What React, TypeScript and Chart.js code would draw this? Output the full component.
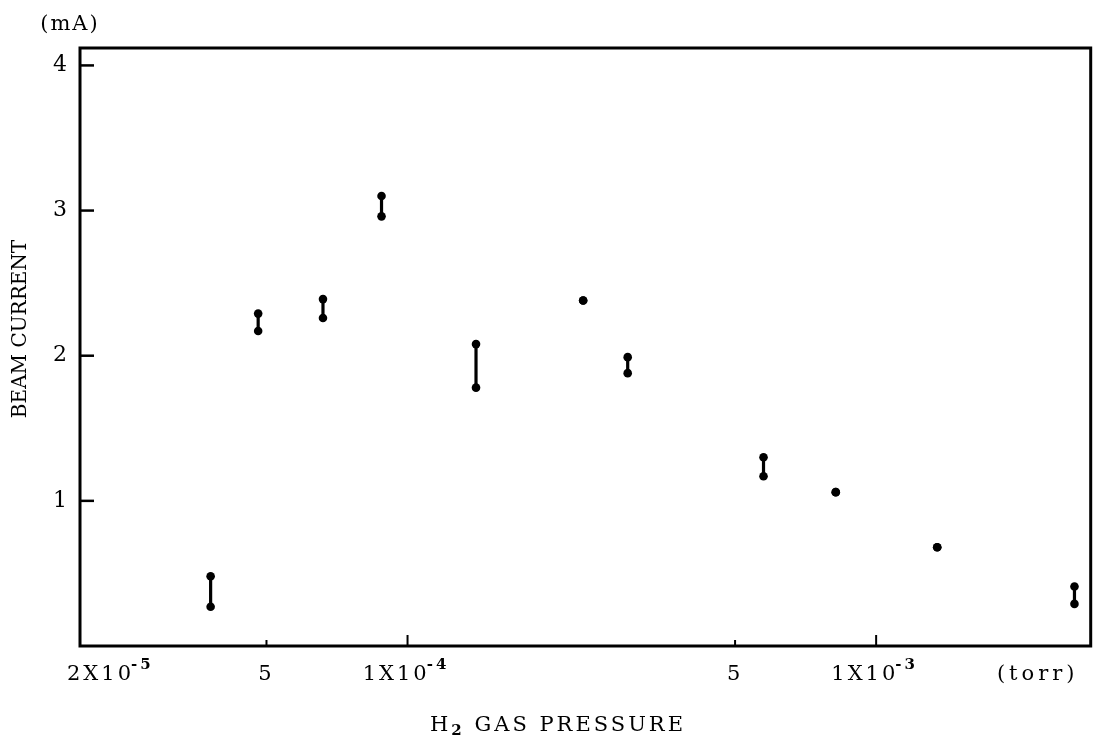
import React, { useEffect, useRef } from "react";
import { Chart, registerables } from "chart.js";

Chart.register(...registerables);

// ---- data ----
const pressure = [3.8e-5, 4.8e-5, 6.6e-5, 8.8e-5, 1.4e-4, 2.37e-4, 2.95e-4, 5.75e-4, 8.2e-4, 1.35e-3, 2.65e-3];
const currentHigh = [0.48, 2.29, 2.39, 3.1, 2.08, 2.38, 1.99, 1.3, 1.06, 0.68, 0.41];
const currentLow = [0.27, 2.17, 2.26, 2.96, 1.78, 2.38, 1.88, 1.17, 1.06, 0.68, 0.29];

const xTickValues = [2e-5, 5e-5, 1e-4, 5e-4, 1e-3];
const xTickMain = ["2X10", "5", "1X10", "5", "1X10"];
const xTickSup = ["-5", "", "-4", "", "-3"];
const yTickValues = [1, 2, 3, 4];

const xMin = 2e-5;
const xMax = 2.87e-3;
const yMin = 0;
const yMax = 4.12;

const xTitleMain = "H";
const xTitleSub = "2";
const xTitleRest = " GAS PRESSURE";
const xUnit = "(torr)";
const yTitle = "BEAM CURRENT";
const yUnit = "(mA)";

const FONT = '"DejaVu Serif", serif';

const decoPlugin = {
  id: "deco",
  beforeDatasetsDraw(chart: any) {
    const { ctx, scales } = chart;
    const x = scales.x;
    const y = scales.y;
    ctx.save();
    ctx.strokeStyle = "#000";
    ctx.lineWidth = 3.2;
    ctx.lineCap = "round";
    for (let i = 0; i < pressure.length; i++) {
      if (currentHigh[i] === currentLow[i]) continue;
      const px = x.getPixelForValue(pressure[i]);
      ctx.beginPath();
      ctx.moveTo(px, y.getPixelForValue(currentHigh[i]));
      ctx.lineTo(px, y.getPixelForValue(currentLow[i]));
      ctx.stroke();
    }
    ctx.restore();
  },
  afterDraw(chart: any) {
    const { ctx, chartArea: a, scales } = chart;
    const x = scales.x;
    const y = scales.y;
    ctx.save();
    ctx.strokeStyle = "#000";
    ctx.fillStyle = "#000";
    // frame
    ctx.lineWidth = 3;
    ctx.strokeRect(a.left, a.top, a.right - a.left, a.bottom - a.top);
    // inward y ticks
    ctx.lineWidth = 2.5;
    for (const v of yTickValues) {
      const py = y.getPixelForValue(v);
      ctx.beginPath();
      ctx.moveTo(a.left, py);
      ctx.lineTo(a.left + 14, py);
      ctx.stroke();
    }
    // inward x ticks
    ctx.lineWidth = 2;
    xTickValues.forEach((v, i) => {
      if (i === 0) return;
      const px = x.getPixelForValue(v);
      const len = xTickSup[i] ? 11 : 6;
      ctx.beginPath();
      ctx.moveTo(px, a.bottom);
      ctx.lineTo(px, a.bottom - len);
      ctx.stroke();
    });
    // x tick labels with superscripts
    const baseY = a.bottom + 34;
    const c: any = ctx;
    c.letterSpacing = "3px";
    xTickValues.forEach((v, i) => {
      const px = x.getPixelForValue(v);
      ctx.font = `21px ${FONT}`;
      const mw = ctx.measureText(xTickMain[i]).width;
      ctx.font = `bold 15px ${FONT}`;
      const sw = xTickSup[i] ? ctx.measureText(xTickSup[i]).width : 0;
      const start = i === 0 ? px - 13 : px - (mw + sw) / 2;
      ctx.textAlign = "left";
      ctx.textBaseline = "alphabetic";
      ctx.font = `21px ${FONT}`;
      ctx.fillText(xTickMain[i], start, baseY);
      if (xTickSup[i]) {
        ctx.font = `bold 15px ${FONT}`;
        ctx.fillText(xTickSup[i], start + mw - 3, baseY - 11);
      }
    });
    // unit on x
    c.letterSpacing = "4px";
    ctx.font = `21px ${FONT}`;
    ctx.textAlign = "center";
    ctx.fillText(xUnit, a.right - 53, baseY);
    // x title with subscript
    c.letterSpacing = "3px";
    ctx.font = `21px ${FONT}`;
    const hW = ctx.measureText(xTitleMain).width;
    const rW = ctx.measureText(xTitleRest).width;
    ctx.font = `bold 15px ${FONT}`;
    const sW = ctx.measureText(xTitleSub).width;
    const total = hW + sW + rW;
    const cx = 558;
    let sx = cx - total / 2;
    const ty = 731;
    ctx.textAlign = "left";
    ctx.font = `21px ${FONT}`;
    ctx.fillText(xTitleMain, sx, ty);
    sx += hW;
    ctx.font = `bold 15px ${FONT}`;
    ctx.fillText(xTitleSub, sx, ty + 4);
    sx += sW;
    ctx.font = `21px ${FONT}`;
    ctx.fillText(xTitleRest, sx, ty);
    // y unit
    c.letterSpacing = "2px";
    ctx.textAlign = "center";
    ctx.textBaseline = "middle";
    ctx.font = `21px ${FONT}`;
    ctx.fillText(yUnit, 70, 25);
    // y title rotated
    c.letterSpacing = "0px";
    ctx.translate(21, 329);
    ctx.rotate(-Math.PI / 2);
    ctx.font = `20px ${FONT}`;
    ctx.fillText(yTitle, 0, 0);
    ctx.restore();
  },
};

export default function App() {
  const ref = useRef<HTMLCanvasElement | null>(null);
  useEffect(() => {
    if (!ref.current) return;
    const chart = new Chart(ref.current, {
      type: "scatter",
      data: {
        datasets: [
          {
            label: "high",
            data: pressure.map((p, i) => ({ x: p, y: currentHigh[i] })),
            backgroundColor: "#000",
            borderColor: "#000",
            pointRadius: 4.3,
            borderWidth: 0,
          },
          {
            label: "low",
            data: pressure.map((p, i) => ({ x: p, y: currentLow[i] })),
            backgroundColor: "#000",
            borderColor: "#000",
            pointRadius: 4.3,
            borderWidth: 0,
          },
        ],
      },
      options: {
        animation: false,
        responsive: true,
        maintainAspectRatio: false,
        layout: { padding: { left: 0, top: 48, right: 2, bottom: 0 } },
        plugins: {
          legend: { display: false },
          tooltip: { enabled: false },
          title: { display: false },
        },
        scales: {
          x: {
            type: "logarithmic",
            min: xMin,
            max: xMax,
            grid: { display: false },
            border: { display: false },
            ticks: { display: false },
            afterFit: (s: any) => {
              s.height = 92;
            },
          },
          y: {
            type: "linear",
            min: yMin,
            max: yMax,
            grid: { display: false, drawTicks: false },
            border: { display: false },
            afterBuildTicks: (s: any) => {
              s.ticks = yTickValues.map((v) => ({ value: v }));
            },
            ticks: {
              padding: 13,
              color: "#000",
              font: { family: FONT, size: 22 },
              callback: (v: any) => String(v),
            },
            afterFit: (s: any) => {
              s.width = 80;
            },
          },
        },
      },
      plugins: [decoPlugin],
    });
    return () => chart.destroy();
  }, []);
  return (
    <div style={{ position: "fixed", left: 0, top: 0, width: 1095, height: 738, background: "#fff" }}>
      <canvas ref={ref} />
    </div>
  );
}
